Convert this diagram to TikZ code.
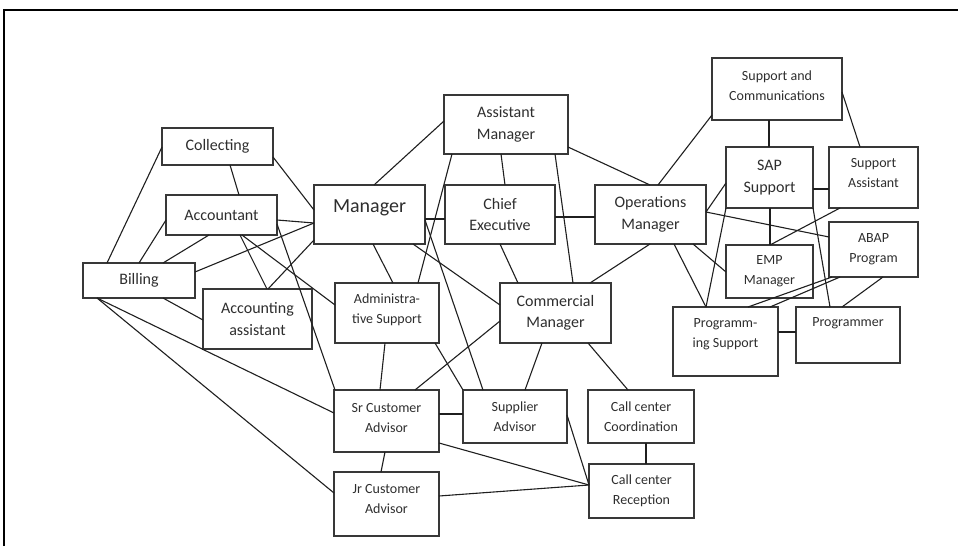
\documentclass[tikz,border=0pt]{standalone}
\usepackage{fontspec}
\setmainfont{Carlito}
\usetikzlibrary{calc}
\tikzset{
  box/.style={draw=black!78, line width=1.6pt, rectangle, inner sep=0pt, outer sep=0pt},
  conn/.style={draw=black!88, line width=1.1pt},
  tbig/.style={font=\fontsize{16}{21.5}\selectfont, align=center, text=black!82, inner sep=0pt},
  tsmall/.style={font=\fontsize{14}{20}\selectfont, align=center, text=black!82, inner sep=0pt},
  thuge/.style={font=\fontsize{20}{24}\selectfont, align=center, text=black!82, inner sep=0pt},
  frame/.style={draw=black, line width=1.6pt}
}
\newcommand\lnk[6]{\draw[conn] ($(#1.north west)+(#2,#3)$) -- ($(#4.north west)+(#5,#6)$);}
\begin{document}
\begin{tikzpicture}[x=1pt,y=-1pt]
\useasboundingbox (0,0) rectangle (958,546);
\coordinate (frbl) at (4,546);
\coordinate (frtl) at (4,10);
\coordinate (frtr) at (958,10);
\draw[frame] (frbl) -- (frtl) -- (frtr);

% boxes
\node[box, minimum width=111pt, minimum height=37pt] (coll) at (217.5,146.5) {};
\node[tbig] (coll-t) at (coll) {Collecting};
\node[box, minimum width=111pt, minimum height=40pt] (acct) at (221.5,215) {};
\node[tbig] (acct-t) at (acct) {Accountant};
\node[box, minimum width=112pt, minimum height=35pt] (bill) at (139,280.5) {};
\node[tbig] (bill-t) at (bill) {Billing};
\node[box, minimum width=109pt, minimum height=60pt] (aasst) at (257.5,319) {};
\node[tbig] (aasst-t) at (aasst) {Accounting\\assistant};
\node[box, minimum width=111pt, minimum height=59pt] (mgr) at (369.5,214.5) {};
\node[thuge] (mgr-t) at ($(mgr)+(0,-7)$) {Manager};
\node[box, minimum width=124pt, minimum height=59pt] (asst) at (506,124.5) {};
\node[tbig] (asst-t) at (asst) {Assistant\\Manager};
\node[box, minimum width=110pt, minimum height=59pt] (chief) at (500,214.5) {};
\node[tbig] (chief-t) at (chief) {Chief\\Executive};
\node[box, minimum width=111pt, minimum height=59pt] (ops) at (650.5,214.5) {};
\node[tbig] (ops-t) at (ops) {Operations\\Manager};
\node[box, minimum width=111pt, minimum height=60pt] (comm) at (555.5,313) {};
\node[tbig] (comm-t) at (comm) {Commercial\\Manager};
\node[box, minimum width=104pt, minimum height=60pt] (admin) at (387,313) {};
\node[tsmall] (admin-t) at ($(admin)+(0,-3)$) {Administra-\\tive Support};
\node[box, minimum width=105pt, minimum height=62pt] (sr) at (386.5,421) {};
\node[tsmall] (sr-t) at ($(sr)+(0,-3)$) {Sr Customer\\Advisor};
\node[box, minimum width=104pt, minimum height=53pt] (supp) at (515,416.5) {};
\node[tsmall] (supp-t) at (supp) {Supplier\\Advisor};
\node[box, minimum width=106pt, minimum height=53pt] (ccc) at (641,416.5) {};
\node[tsmall] (ccc-t) at (ccc) {Call center\\Coordination};
\node[box, minimum width=105pt, minimum height=54pt] (ccr) at (641.5,491) {};
\node[tsmall] (ccr-t) at (ccr) {Call center\\Reception};
\node[box, minimum width=105pt, minimum height=64pt] (jr) at (386.5,504) {};
\node[tsmall] (jr-t) at ($(jr)+(0,-5)$) {Jr Customer\\Advisor};
\node[box, minimum width=130pt, minimum height=62pt] (sc) at (777,89) {};
\node[tsmall] (sc-t) at ($(sc)+(0,-3)$) {Support and\\Communications};
\node[box, minimum width=87pt, minimum height=61pt] (sap) at (769.5,177.5) {};
\node[tbig] (sap-t) at (sap) {SAP\\Support};
\node[box, minimum width=89pt, minimum height=61pt] (sa) at (873.5,177.5) {};
\node[tsmall] (sa-t) at ($(sa)+(0,-4)$) {Support\\Assistant};
\node[box, minimum width=89pt, minimum height=55pt] (abap) at (873.5,249.5) {};
\node[tsmall] (abap-t) at (abap) {ABAP\\Program};
\node[box, minimum width=87pt, minimum height=53pt] (emp) at (769.5,271.5) {};
\node[tsmall] (emp-t) at (emp) {EMP\\Manager};
\node[box, minimum width=105pt, minimum height=69pt] (ps) at (725.5,341.5) {};
\node[tsmall] (ps-t) at ($(ps)+(0,-7)$) {Programm-\\ing Support};
\node[box, minimum width=104pt, minimum height=56pt] (prog) at (848,335) {};
\node[tsmall] (prog-t) at ($(prog)+(0,-12)$) {Programmer};

% connectors
\lnk{bill}{24}{0}{coll}{0}{19}
\lnk{bill}{56}{0}{acct}{0}{25}
\lnk{bill}{80}{0}{acct}{43}{40}
\lnk{bill}{112}{9}{mgr}{0}{38}
\lnk{bill}{80}{35}{aasst}{0}{31}
\lnk{bill}{14}{35}{sr}{0}{23}
\lnk{bill}{14}{35}{jr}{0}{21}
\lnk{coll}{111}{29}{mgr}{0}{25}
\lnk{coll}{68}{37}{acct}{73}{0}
\lnk{acct}{111}{25}{mgr}{0}{38}
\lnk{acct}{74}{40}{aasst}{64}{0}
\lnk{aasst}{65}{0}{mgr}{0}{55}
\lnk{acct}{76}{40}{admin}{0}{22}
\lnk{acct}{111}{29}{sr}{1}{0}
\lnk{mgr}{60}{0}{asst}{0}{26}
\lnk{mgr}{111}{34}{chief}{0}{34}
\lnk{mgr}{59}{59}{admin}{58}{0}
\lnk{mgr}{99}{59}{comm}{0}{22}
\lnk{mgr}{111}{35}{supp}{20}{0}
\lnk{asst}{57}{59}{chief}{60}{0}
\lnk{asst}{8}{59}{admin}{83}{0}
\lnk{asst}{111}{59}{comm}{73}{0}
\lnk{asst}{124}{52}{ops}{55}{0}
\lnk{chief}{110}{32}{ops}{0}{32}
\lnk{chief}{55}{59}{comm}{18}{0}
\lnk{ops}{55}{59}{comm}{90}{0}
\lnk{ops}{63}{0}{sc}{0}{57}
\lnk{ops}{111}{27}{sap}{0}{36}
\lnk{ops}{111}{27}{abap}{0}{15}
\lnk{ops}{98}{59}{emp}{0}{27}
\lnk{ops}{79}{59}{ps}{33}{0}
\lnk{sc}{57}{62}{sap}{43}{0}
\lnk{sc}{130}{34}{sa}{31}{0}
\lnk{sap}{87}{42}{sa}{0}{42}
\lnk{sap}{44}{61}{emp}{44}{0}
\lnk{sa}{11}{61}{emp}{44}{0}
\lnk{sap}{87}{61}{prog}{34}{0}
\lnk{sap}{0}{61}{ps}{33}{0}
\lnk{abap}{3}{55}{ps}{75}{0}
\lnk{abap}{11}{55}{ps}{97}{0}
\lnk{abap}{54}{55}{prog}{46}{0}
\lnk{ps}{105}{25}{prog}{0}{25}
\lnk{comm}{0}{38}{sr}{81}{0}
\lnk{comm}{42}{60}{supp}{62}{0}
\lnk{comm}{88}{60}{ccc}{40}{0}
\lnk{admin}{50}{60}{sr}{46}{0}
\lnk{admin}{100}{60}{supp}{0}{0}
\lnk{sr}{105}{24}{supp}{0}{24}
\lnk{sr}{105}{53}{ccr}{0}{21}
\lnk{jr}{105}{24}{ccr}{0}{21}
\lnk{supp}{104}{25}{ccr}{0}{21}
\lnk{ccc}{58}{53}{ccr}{57}{0}
\lnk{sr}{51}{62}{jr}{47}{0}
\end{tikzpicture}
\end{document}
